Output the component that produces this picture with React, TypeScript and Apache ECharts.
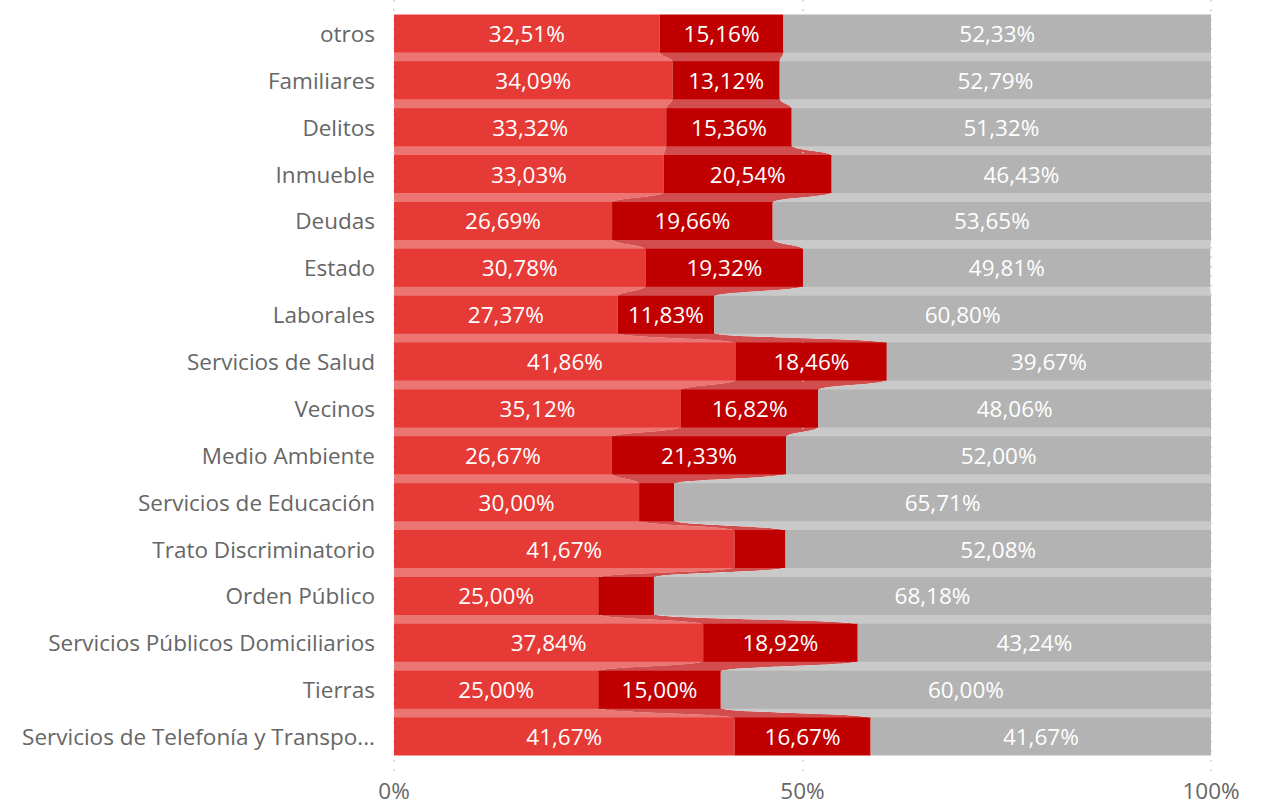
import React, { useEffect, useRef } from "react";
import * as echarts from "echarts";

const categories = [
  "otros",
  "Familiares",
  "Delitos",
  "Inmueble",
  "Deudas",
  "Estado",
  "Laborales",
  "Servicios de Salud",
  "Vecinos",
  "Medio Ambiente",
  "Servicios de Educación",
  "Trato Discriminatorio",
  "Orden Público",
  "Servicios Públicos Domiciliarios",
  "Tierras",
  "Servicios de Telefonía y Transporte",
];

const serieA = [32.51, 34.09, 33.32, 33.03, 26.69, 30.78, 27.37, 41.86, 35.12, 26.67, 30.0, 41.67, 25.0, 37.84, 25.0, 41.67];
const serieB = [15.16, 13.12, 15.36, 20.54, 19.66, 19.32, 11.83, 18.46, 16.82, 21.33, 4.29, 6.25, 6.82, 18.92, 15.0, 16.67];
const serieC = [52.33, 52.79, 51.32, 46.43, 53.65, 49.81, 60.8, 39.67, 48.06, 52.0, 65.71, 52.08, 68.18, 43.24, 60.0, 41.67];

const seriesNames = ["Serie 1", "Serie 2", "Serie 3"];
const xTicks = [0, 50, 100];

const barColors = ["#E53A36", "#C00000", "#B3B3B3"];
const ribbonColors = ["#EC7572", "#D24D4D", "#C9C9C9"];

const FONT = "'Segoe UI', 'Open Sans', sans-serif";
const FS = 22.5;

export default function App() {
  const ref = useRef<HTMLDivElement>(null);

  useEffect(() => {
    document.body.style.margin = "0";
    const chart = echarts.init(ref.current!, null, { renderer: "svg" });
    const all = [serieA, serieB, serieC];
    const n = categories.length;
    const BAR_RATIO = 0.81;

    const ribbonSeries = all.map((_, s) => {
      const data: number[][] = [];
      for (let i = 0; i < n - 1; i++) {
        let startA = 0;
        let startB = 0;
        for (let k = 0; k < s; k++) {
          startA += all[k][i];
          startB += all[k][i + 1];
        }
        data.push([startA, startA + all[s][i], startB, startB + all[s][i + 1], i]);
      }
      return {
        type: "custom",
        name: seriesNames[s] + " ribbon",
        xAxisIndex: 0,
        yAxisIndex: 0,
        z: -1,
        silent: true,
        encode: { x: [0, 1, 2, 3], y: 4 },
        data,
        renderItem: (params: any, api: any) => {
          const i = api.value(4);
          const pA1 = api.coord([api.value(0), i]);
          const pA2 = api.coord([api.value(1), i]);
          const pB1 = api.coord([api.value(2), i + 1]);
          const pB2 = api.coord([api.value(3), i + 1]);
          const band = Math.abs(api.size([0, 1])[1]);
          const h = band * BAR_RATIO;
          const yA = pA1[1] + h / 2 - 1;
          const yB = pB1[1] - h / 2 + 1;
          const ym = (yA + yB) / 2;
          const d =
            `M${pA1[0]},${yA} L${pA2[0]},${yA} ` +
            `C${pA2[0]},${ym} ${pB2[0]},${ym} ${pB2[0]},${yB} ` +
            `L${pB1[0]},${yB} ` +
            `C${pB1[0]},${ym} ${pA1[0]},${ym} ${pA1[0]},${yA} Z`;
          return {
            type: "path",
            shape: { pathData: d },
            style: { fill: ribbonColors[s], stroke: null },
          };
        },
      };
    });

    const barSeries = all.map((vals, s) => ({
      type: "bar",
      name: seriesNames[s],
      stack: "total",
      xAxisIndex: 0,
      yAxisIndex: 0,
      z: 3,
      barCategoryGap: "19%",
      itemStyle: { color: barColors[s] },
      label: {
        show: true,
        position: "inside",
        color: "#FFFFFF",
        fontFamily: FONT,
        fontSize: FS,
        formatter: (p: any) =>
          p.value >= 8 ? p.value.toFixed(2).replace(".", ",") + "%" : "",
      },
      data: vals,
    }));

    chart.setOption({
      animation: false,
      grid: [
        { left: 394, right: 53, top: 10, bottom: 47, containLabel: false },
        { left: 394, right: 53, top: 0, bottom: 34, containLabel: false },
      ],
      xAxis: [
        { type: "value", gridIndex: 0, min: 0, max: 100, show: false },
        {
          type: "value",
          gridIndex: 1,
          min: xTicks[0],
          max: xTicks[xTicks.length - 1],
          interval: 50,
          axisLine: { show: false },
          axisTick: { show: false },
          splitLine: {
            show: true,
            lineStyle: { color: "#C8C8C8", type: [1.5, 8], width: 1.5 },
          },
          axisLabel: {
            formatter: "{value}%",
            color: "#666666",
            fontFamily: FONT,
            fontSize: FS,
            lineHeight: 22,
            margin: 6,
          },
        },
      ],
      yAxis: [
        {
          type: "category",
          gridIndex: 0,
          inverse: true,
          data: categories,
          axisLine: { show: false },
          axisTick: { show: false },
          splitLine: { show: false },
          axisLabel: {
            color: "#666666",
            fontFamily: FONT,
            fontSize: FS,
            margin: 19,
            width: 364,
            overflow: "truncate",
            ellipsis: "...",
          },
        },
        { type: "value", gridIndex: 1, show: false, min: 0, max: 1 },
      ],
      series: [...ribbonSeries, ...barSeries],
    });

    return () => chart.dispose();
  }, []);

  return <div ref={ref} style={{ width: 1264, height: 807 }} />;
}
